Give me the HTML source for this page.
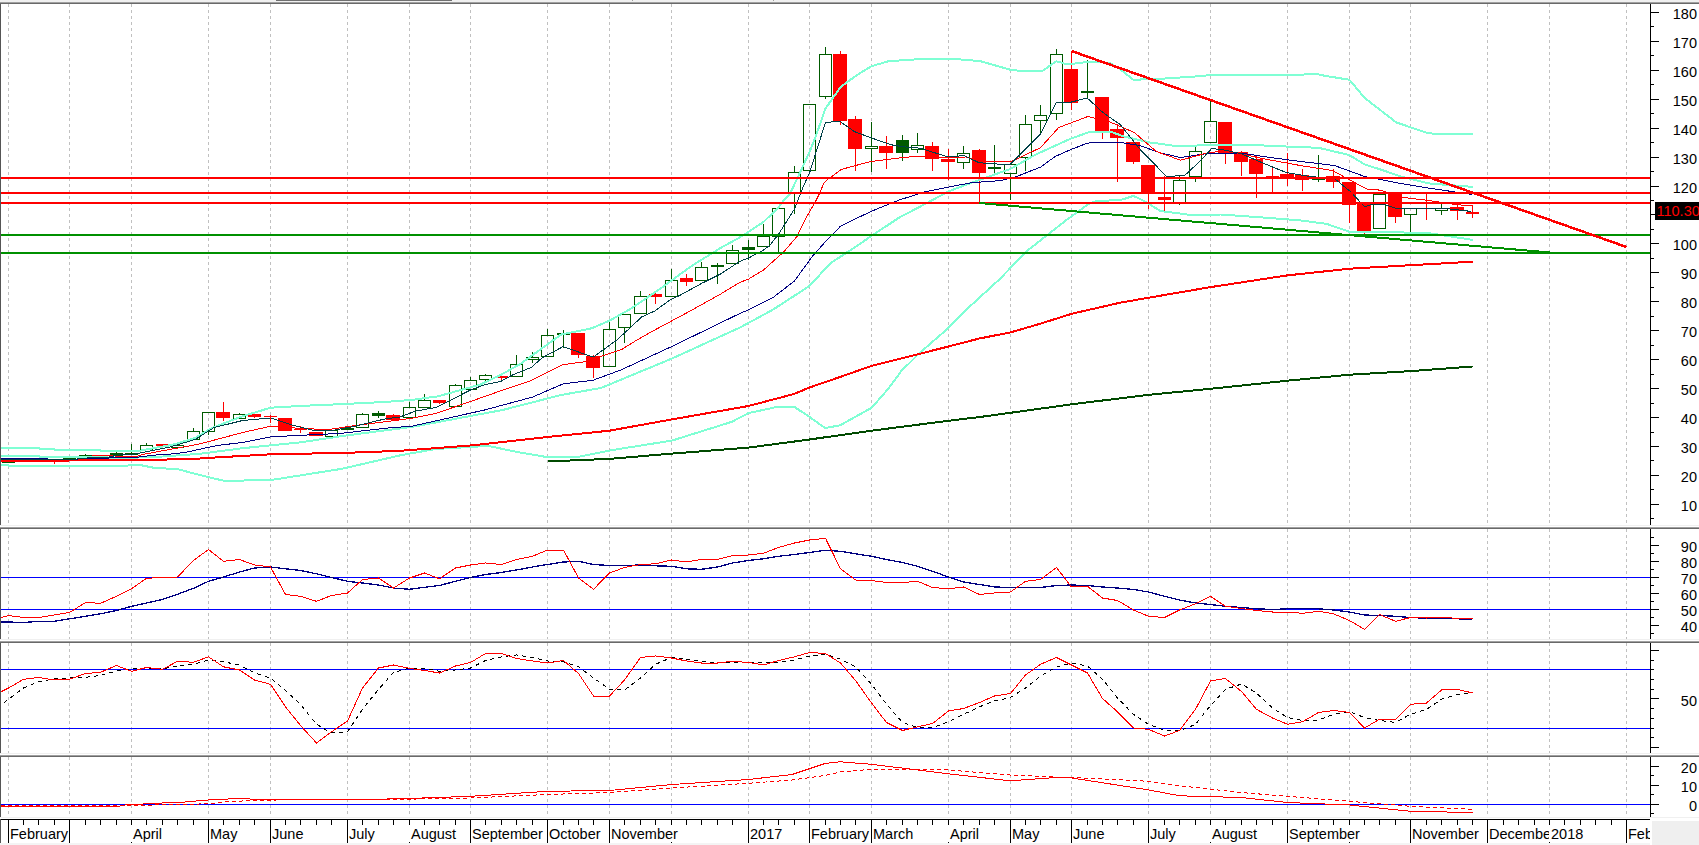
<!DOCTYPE html><html><head><meta charset="utf-8"><style>html,body{margin:0;padding:0;background:#fff;overflow:hidden}svg{display:block}text{font-family:"Liberation Sans",sans-serif;font-size:14.5px;fill:#000}</style></head><body>
<svg width="1699" height="845" viewBox="0 0 1699 845">
<rect x="0" y="0" width="1699" height="845" fill="#fff"/>
<rect x="0" y="0" width="1699" height="2" fill="#f0f0f0"/>
<rect x="0" y="2" width="1699" height="1" fill="#a0a0a0"/>
<rect x="0" y="3" width="1699" height="1" fill="#696969"/>
<rect x="276" y="0" width="176" height="1" fill="#707070"/>
<rect x="632" y="0" width="1" height="1" fill="#a0a0a0"/>
<rect x="773" y="0" width="1" height="1" fill="#a0a0a0"/>
<rect x="0" y="525" width="1699" height="1" fill="#f0f0f0"/>
<rect x="0" y="527" width="1699" height="1" fill="#a0a0a0"/>
<rect x="0" y="528" width="1699" height="1" fill="#696969"/>
<rect x="0" y="639" width="1699" height="1" fill="#f0f0f0"/>
<rect x="0" y="641" width="1699" height="1" fill="#a0a0a0"/>
<rect x="0" y="642" width="1699" height="1" fill="#696969"/>
<rect x="0" y="753" width="1699" height="1" fill="#f0f0f0"/>
<rect x="0" y="755" width="1699" height="1" fill="#a0a0a0"/>
<rect x="0" y="756" width="1699" height="1" fill="#696969"/>
<rect x="0" y="4" width="1" height="521" fill="#555"/>
<rect x="0" y="529" width="1" height="110" fill="#555"/>
<rect x="0" y="643" width="1" height="110" fill="#555"/>
<rect x="0" y="757" width="1" height="60" fill="#555"/>
<path d="M8.5 4V525M69.5 4V525M131.5 4V525M208.5 4V525M270.5 4V525M347.5 4V525M409.5 4V525M470.5 4V525M547.5 4V525M609.5 4V525M671.5 4V525M748.5 4V525M809.5 4V525M871.5 4V525M948.5 4V525M1010.5 4V525M1071.5 4V525M1148.5 4V525M1210.5 4V525M1287.5 4V525M1349.5 4V525M1410.5 4V525M1487.5 4V525M1549.5 4V525M1626.5 4V525M8.5 529V639M69.5 529V639M131.5 529V639M208.5 529V639M270.5 529V639M347.5 529V639M409.5 529V639M470.5 529V639M547.5 529V639M609.5 529V639M671.5 529V639M748.5 529V639M809.5 529V639M871.5 529V639M948.5 529V639M1010.5 529V639M1071.5 529V639M1148.5 529V639M1210.5 529V639M1287.5 529V639M1349.5 529V639M1410.5 529V639M1487.5 529V639M1549.5 529V639M1626.5 529V639M8.5 643V753M69.5 643V753M131.5 643V753M208.5 643V753M270.5 643V753M347.5 643V753M409.5 643V753M470.5 643V753M547.5 643V753M609.5 643V753M671.5 643V753M748.5 643V753M809.5 643V753M871.5 643V753M948.5 643V753M1010.5 643V753M1071.5 643V753M1148.5 643V753M1210.5 643V753M1287.5 643V753M1349.5 643V753M1410.5 643V753M1487.5 643V753M1549.5 643V753M1626.5 643V753M8.5 757V817M69.5 757V817M131.5 757V817M208.5 757V817M270.5 757V817M347.5 757V817M409.5 757V817M470.5 757V817M547.5 757V817M609.5 757V817M671.5 757V817M748.5 757V817M809.5 757V817M871.5 757V817M948.5 757V817M1010.5 757V817M1071.5 757V817M1148.5 757V817M1210.5 757V817M1287.5 757V817M1349.5 757V817M1410.5 757V817M1487.5 757V817M1549.5 757V817M1626.5 757V817" stroke="#c0c0c0" stroke-width="1" stroke-dasharray="3 3" fill="none" shape-rendering="crispEdges"/>
<defs><clipPath id="cm"><rect x="1" y="4" width="1649" height="521"/></clipPath><clipPath id="cr"><rect x="1" y="529" width="1649" height="110"/></clipPath><clipPath id="cs"><rect x="1" y="643" width="1649" height="110"/></clipPath><clipPath id="cd"><rect x="1" y="757" width="1649" height="60"/></clipPath><clipPath id="cx"><rect x="1" y="820" width="1649" height="25"/></clipPath></defs>
<g clip-path="url(#cm)" shape-rendering="crispEdges">
<rect x="2.5" y="459.5" width="12" height="3" fill="none" stroke="#005a00" stroke-width="1"/>
<rect x="17.5" y="458.5" width="12" height="3" fill="none" stroke="#005a00" stroke-width="1"/>
<rect x="32.5" y="458.5" width="12" height="3" fill="none" stroke="#005a00" stroke-width="1"/>
<rect x="54" y="462" width="1" height="2" fill="#ff0000"/>
<rect x="47" y="459" width="14" height="3" fill="#ff0000"/>
<rect x="63.5" y="458.5" width="12" height="2" fill="none" stroke="#005a00" stroke-width="1"/>
<rect x="85" y="454" width="1" height="1" fill="#005a00"/>
<rect x="79.5" y="455.5" width="12" height="2" fill="none" stroke="#005a00" stroke-width="1"/>
<rect x="100" y="457" width="1" height="1" fill="#ff0000"/>
<rect x="94" y="455" width="13" height="2" fill="#ff0000"/>
<rect x="116" y="452" width="1" height="1" fill="#005a00"/>
<rect x="110" y="453" width="13" height="3" fill="#005a00"/>
<rect x="131" y="444" width="1" height="9" fill="#005a00"/>
<rect x="125" y="453" width="13" height="2" fill="#005a00"/>
<rect x="146" y="443" width="1" height="2" fill="#005a00"/>
<rect x="140.5" y="445.5" width="12" height="4" fill="none" stroke="#005a00" stroke-width="1"/>
<rect x="156" y="444" width="13" height="2" fill="#ff0000"/>
<rect x="177" y="448" width="1" height="1" fill="#005a00"/>
<rect x="171.5" y="445.5" width="12" height="2" fill="none" stroke="#005a00" stroke-width="1"/>
<rect x="193" y="428" width="1" height="3" fill="#005a00"/>
<rect x="187.5" y="431.5" width="12" height="8" fill="none" stroke="#005a00" stroke-width="1"/>
<rect x="208" y="432" width="1" height="3" fill="#005a00"/>
<rect x="202.5" y="412.5" width="12" height="19" fill="none" stroke="#005a00" stroke-width="1"/>
<rect x="223" y="402" width="1" height="10" fill="#ff0000"/>
<rect x="223" y="418" width="1" height="3" fill="#ff0000"/>
<rect x="216" y="412" width="14" height="6" fill="#ff0000"/>
<rect x="239" y="413" width="1" height="1" fill="#005a00"/>
<rect x="233.5" y="414.5" width="12" height="4" fill="none" stroke="#005a00" stroke-width="1"/>
<rect x="254" y="413" width="1" height="1" fill="#ff0000"/>
<rect x="254" y="417" width="1" height="1" fill="#ff0000"/>
<rect x="248" y="414" width="13" height="3" fill="#ff0000"/>
<rect x="270" y="415" width="1" height="1" fill="#ff0000"/>
<rect x="270" y="417" width="1" height="6" fill="#ff0000"/>
<rect x="264" y="416" width="13" height="1" fill="#ff0000"/>
<rect x="278" y="418" width="14" height="13" fill="#ff0000"/>
<rect x="300" y="426" width="1" height="3" fill="#ff0000"/>
<rect x="300" y="430" width="1" height="3" fill="#ff0000"/>
<rect x="294" y="429" width="13" height="1" fill="#ff0000"/>
<rect x="309" y="432" width="14" height="4" fill="#ff0000"/>
<rect x="325.5" y="430.5" width="12" height="6" fill="none" stroke="#005a00" stroke-width="1"/>
<rect x="341" y="428" width="13" height="2" fill="#005a00"/>
<rect x="362" y="413" width="1" height="1" fill="#005a00"/>
<rect x="356.5" y="414.5" width="12" height="13" fill="none" stroke="#005a00" stroke-width="1"/>
<rect x="378" y="411" width="1" height="2" fill="#005a00"/>
<rect x="378" y="416" width="1" height="2" fill="#005a00"/>
<rect x="372" y="413" width="13" height="3" fill="#005a00"/>
<rect x="393" y="414" width="1" height="1" fill="#ff0000"/>
<rect x="386" y="415" width="14" height="5" fill="#ff0000"/>
<rect x="409" y="402" width="1" height="5" fill="#005a00"/>
<rect x="403.5" y="407.5" width="12" height="10" fill="none" stroke="#005a00" stroke-width="1"/>
<rect x="424" y="394" width="1" height="6" fill="#005a00"/>
<rect x="418.5" y="400.5" width="12" height="7" fill="none" stroke="#005a00" stroke-width="1"/>
<rect x="439" y="403" width="1" height="1" fill="#ff0000"/>
<rect x="433" y="400" width="13" height="3" fill="#ff0000"/>
<rect x="455" y="384" width="1" height="1" fill="#005a00"/>
<rect x="449.5" y="385.5" width="12" height="21" fill="none" stroke="#005a00" stroke-width="1"/>
<rect x="470" y="377" width="1" height="3" fill="#005a00"/>
<rect x="464.5" y="380.5" width="12" height="9" fill="none" stroke="#005a00" stroke-width="1"/>
<rect x="485" y="374" width="1" height="1" fill="#005a00"/>
<rect x="485" y="380" width="1" height="3" fill="#005a00"/>
<rect x="479.5" y="375.5" width="12" height="4" fill="none" stroke="#005a00" stroke-width="1"/>
<rect x="501" y="378" width="1" height="2" fill="#ff0000"/>
<rect x="495" y="376" width="13" height="2" fill="#ff0000"/>
<rect x="516" y="355" width="1" height="9" fill="#005a00"/>
<rect x="510.5" y="364.5" width="12" height="12" fill="none" stroke="#005a00" stroke-width="1"/>
<rect x="532" y="352" width="1" height="5" fill="#005a00"/>
<rect x="532" y="360" width="1" height="3" fill="#005a00"/>
<rect x="526.5" y="357.5" width="12" height="2" fill="none" stroke="#005a00" stroke-width="1"/>
<rect x="547" y="329" width="1" height="6" fill="#005a00"/>
<rect x="541.5" y="335.5" width="12" height="21" fill="none" stroke="#005a00" stroke-width="1"/>
<rect x="563" y="330" width="1" height="3" fill="#005a00"/>
<rect x="563" y="335" width="1" height="13" fill="#005a00"/>
<rect x="557" y="333" width="13" height="2" fill="#005a00"/>
<rect x="578" y="355" width="1" height="3" fill="#ff0000"/>
<rect x="571" y="333" width="14" height="22" fill="#ff0000"/>
<rect x="593" y="355" width="1" height="1" fill="#ff0000"/>
<rect x="593" y="368" width="1" height="10" fill="#ff0000"/>
<rect x="586" y="356" width="14" height="12" fill="#ff0000"/>
<rect x="609" y="322" width="1" height="7" fill="#005a00"/>
<rect x="603.5" y="329.5" width="12" height="37" fill="none" stroke="#005a00" stroke-width="1"/>
<rect x="624" y="328" width="1" height="15" fill="#005a00"/>
<rect x="618.5" y="314.5" width="12" height="13" fill="none" stroke="#005a00" stroke-width="1"/>
<rect x="640" y="291" width="1" height="5" fill="#005a00"/>
<rect x="634.5" y="296.5" width="12" height="17" fill="none" stroke="#005a00" stroke-width="1"/>
<rect x="655" y="293" width="1" height="1" fill="#ff0000"/>
<rect x="655" y="297" width="1" height="7" fill="#ff0000"/>
<rect x="649" y="294" width="13" height="3" fill="#ff0000"/>
<rect x="671" y="269" width="1" height="11" fill="#005a00"/>
<rect x="665.5" y="280.5" width="12" height="16" fill="none" stroke="#005a00" stroke-width="1"/>
<rect x="686" y="274" width="1" height="4" fill="#ff0000"/>
<rect x="686" y="282" width="1" height="4" fill="#ff0000"/>
<rect x="680" y="278" width="13" height="4" fill="#ff0000"/>
<rect x="701" y="262" width="1" height="5" fill="#005a00"/>
<rect x="695.5" y="267.5" width="12" height="13" fill="none" stroke="#005a00" stroke-width="1"/>
<rect x="717" y="263" width="1" height="2" fill="#005a00"/>
<rect x="717" y="267" width="1" height="17" fill="#005a00"/>
<rect x="711" y="265" width="13" height="2" fill="#005a00"/>
<rect x="732" y="245" width="1" height="5" fill="#005a00"/>
<rect x="726.5" y="250.5" width="12" height="13" fill="none" stroke="#005a00" stroke-width="1"/>
<rect x="748" y="240" width="1" height="7" fill="#005a00"/>
<rect x="748" y="250" width="1" height="10" fill="#005a00"/>
<rect x="742" y="247" width="13" height="3" fill="#005a00"/>
<rect x="763" y="224" width="1" height="12" fill="#005a00"/>
<rect x="757.5" y="236.5" width="12" height="10" fill="none" stroke="#005a00" stroke-width="1"/>
<rect x="778" y="237" width="1" height="16" fill="#005a00"/>
<rect x="772.5" y="208.5" width="12" height="28" fill="none" stroke="#005a00" stroke-width="1"/>
<rect x="794" y="166" width="1" height="6" fill="#005a00"/>
<rect x="794" y="193" width="1" height="21" fill="#005a00"/>
<rect x="788.5" y="172.5" width="12" height="20" fill="none" stroke="#005a00" stroke-width="1"/>
<rect x="803.5" y="104.5" width="12" height="66" fill="none" stroke="#005a00" stroke-width="1"/>
<rect x="825" y="47" width="1" height="7" fill="#005a00"/>
<rect x="825" y="97" width="1" height="2" fill="#005a00"/>
<rect x="819.5" y="54.5" width="12" height="42" fill="none" stroke="#005a00" stroke-width="1"/>
<rect x="840" y="51" width="1" height="3" fill="#ff0000"/>
<rect x="840" y="121" width="1" height="4" fill="#ff0000"/>
<rect x="833" y="54" width="14" height="67" fill="#ff0000"/>
<rect x="855" y="116" width="1" height="3" fill="#ff0000"/>
<rect x="855" y="149" width="1" height="22" fill="#ff0000"/>
<rect x="848" y="119" width="14" height="30" fill="#ff0000"/>
<rect x="871" y="122" width="1" height="24" fill="#005a00"/>
<rect x="871" y="149" width="1" height="23" fill="#005a00"/>
<rect x="865.5" y="146.5" width="12" height="2" fill="none" stroke="#005a00" stroke-width="1"/>
<rect x="886" y="136" width="1" height="10" fill="#ff0000"/>
<rect x="886" y="153" width="1" height="16" fill="#ff0000"/>
<rect x="879" y="146" width="14" height="7" fill="#ff0000"/>
<rect x="902" y="135" width="1" height="5" fill="#005a00"/>
<rect x="902" y="153" width="1" height="8" fill="#005a00"/>
<rect x="896" y="140" width="13" height="13" fill="#005a00"/>
<rect x="917" y="133" width="1" height="12" fill="#005a00"/>
<rect x="917" y="150" width="1" height="3" fill="#005a00"/>
<rect x="911.5" y="145.5" width="12" height="4" fill="none" stroke="#005a00" stroke-width="1"/>
<rect x="932" y="142" width="1" height="4" fill="#ff0000"/>
<rect x="932" y="159" width="1" height="12" fill="#ff0000"/>
<rect x="925" y="146" width="14" height="13" fill="#ff0000"/>
<rect x="948" y="149" width="1" height="10" fill="#ff0000"/>
<rect x="948" y="162" width="1" height="18" fill="#ff0000"/>
<rect x="941" y="159" width="14" height="3" fill="#ff0000"/>
<rect x="963" y="146" width="1" height="7" fill="#005a00"/>
<rect x="963" y="163" width="1" height="6" fill="#005a00"/>
<rect x="957.5" y="153.5" width="12" height="9" fill="none" stroke="#005a00" stroke-width="1"/>
<rect x="979" y="149" width="1" height="1" fill="#ff0000"/>
<rect x="979" y="173" width="1" height="31" fill="#ff0000"/>
<rect x="972" y="150" width="14" height="23" fill="#ff0000"/>
<rect x="994" y="145" width="1" height="22" fill="#005a00"/>
<rect x="994" y="169" width="1" height="5" fill="#005a00"/>
<rect x="988" y="167" width="13" height="2" fill="#005a00"/>
<rect x="1010" y="174" width="1" height="26" fill="#005a00"/>
<rect x="1004.5" y="164.5" width="12" height="9" fill="none" stroke="#005a00" stroke-width="1"/>
<rect x="1025" y="115" width="1" height="9" fill="#005a00"/>
<rect x="1025" y="158" width="1" height="13" fill="#005a00"/>
<rect x="1019.5" y="124.5" width="12" height="33" fill="none" stroke="#005a00" stroke-width="1"/>
<rect x="1040" y="105" width="1" height="10" fill="#005a00"/>
<rect x="1040" y="121" width="1" height="13" fill="#005a00"/>
<rect x="1034.5" y="115.5" width="12" height="5" fill="none" stroke="#005a00" stroke-width="1"/>
<rect x="1056" y="49" width="1" height="5" fill="#005a00"/>
<rect x="1056" y="114" width="1" height="6" fill="#005a00"/>
<rect x="1050.5" y="54.5" width="12" height="59" fill="none" stroke="#005a00" stroke-width="1"/>
<rect x="1071" y="51" width="1" height="18" fill="#ff0000"/>
<rect x="1071" y="103" width="1" height="7" fill="#ff0000"/>
<rect x="1064" y="69" width="14" height="34" fill="#ff0000"/>
<rect x="1087" y="60" width="1" height="31" fill="#005a00"/>
<rect x="1087" y="93" width="1" height="6" fill="#005a00"/>
<rect x="1081" y="91" width="13" height="2" fill="#005a00"/>
<rect x="1102" y="131" width="1" height="8" fill="#ff0000"/>
<rect x="1095" y="97" width="14" height="34" fill="#ff0000"/>
<rect x="1117" y="124" width="1" height="5" fill="#ff0000"/>
<rect x="1117" y="138" width="1" height="44" fill="#ff0000"/>
<rect x="1110" y="129" width="14" height="9" fill="#ff0000"/>
<rect x="1133" y="162" width="1" height="2" fill="#ff0000"/>
<rect x="1126" y="142" width="14" height="20" fill="#ff0000"/>
<rect x="1148" y="193" width="1" height="16" fill="#ff0000"/>
<rect x="1141" y="165" width="14" height="28" fill="#ff0000"/>
<rect x="1164" y="176" width="1" height="21" fill="#ff0000"/>
<rect x="1164" y="200" width="1" height="11" fill="#ff0000"/>
<rect x="1158" y="197" width="13" height="3" fill="#ff0000"/>
<rect x="1179" y="175" width="1" height="5" fill="#005a00"/>
<rect x="1179" y="203" width="1" height="2" fill="#005a00"/>
<rect x="1173.5" y="180.5" width="12" height="22" fill="none" stroke="#005a00" stroke-width="1"/>
<rect x="1195" y="147" width="1" height="4" fill="#005a00"/>
<rect x="1195" y="177" width="1" height="5" fill="#005a00"/>
<rect x="1189.5" y="151.5" width="12" height="25" fill="none" stroke="#005a00" stroke-width="1"/>
<rect x="1210" y="100" width="1" height="21" fill="#005a00"/>
<rect x="1204.5" y="121.5" width="12" height="21" fill="none" stroke="#005a00" stroke-width="1"/>
<rect x="1225" y="153" width="1" height="11" fill="#ff0000"/>
<rect x="1218" y="122" width="14" height="31" fill="#ff0000"/>
<rect x="1241" y="151" width="1" height="1" fill="#ff0000"/>
<rect x="1241" y="162" width="1" height="14" fill="#ff0000"/>
<rect x="1234" y="152" width="14" height="10" fill="#ff0000"/>
<rect x="1256" y="156" width="1" height="3" fill="#ff0000"/>
<rect x="1256" y="174" width="1" height="24" fill="#ff0000"/>
<rect x="1249" y="159" width="14" height="15" fill="#ff0000"/>
<rect x="1272" y="168" width="1" height="8" fill="#ff0000"/>
<rect x="1272" y="178" width="1" height="14" fill="#ff0000"/>
<rect x="1266" y="176" width="13" height="2" fill="#ff0000"/>
<rect x="1287" y="153" width="1" height="21" fill="#ff0000"/>
<rect x="1287" y="178" width="1" height="8" fill="#ff0000"/>
<rect x="1280" y="174" width="14" height="4" fill="#ff0000"/>
<rect x="1302" y="169" width="1" height="6" fill="#ff0000"/>
<rect x="1302" y="180" width="1" height="11" fill="#ff0000"/>
<rect x="1295" y="175" width="14" height="5" fill="#ff0000"/>
<rect x="1318" y="155" width="1" height="23" fill="#005a00"/>
<rect x="1318" y="180" width="1" height="2" fill="#005a00"/>
<rect x="1312" y="178" width="13" height="2" fill="#005a00"/>
<rect x="1333" y="169" width="1" height="7" fill="#ff0000"/>
<rect x="1333" y="182" width="1" height="6" fill="#ff0000"/>
<rect x="1326" y="176" width="14" height="6" fill="#ff0000"/>
<rect x="1349" y="205" width="1" height="18" fill="#ff0000"/>
<rect x="1342" y="182" width="14" height="23" fill="#ff0000"/>
<rect x="1364" y="231" width="1" height="4" fill="#ff0000"/>
<rect x="1357" y="204" width="14" height="27" fill="#ff0000"/>
<rect x="1373.5" y="194.5" width="12" height="34" fill="none" stroke="#005a00" stroke-width="1"/>
<rect x="1395" y="217" width="1" height="6" fill="#ff0000"/>
<rect x="1388" y="192" width="14" height="25" fill="#ff0000"/>
<rect x="1410" y="215" width="1" height="17" fill="#005a00"/>
<rect x="1404.5" y="208.5" width="12" height="6" fill="none" stroke="#005a00" stroke-width="1"/>
<rect x="1426" y="194" width="1" height="8" fill="#ff0000"/>
<rect x="1426" y="204" width="1" height="16" fill="#ff0000"/>
<rect x="1420" y="202" width="13" height="2" fill="#ff0000"/>
<rect x="1441" y="204" width="1" height="4" fill="#005a00"/>
<rect x="1441" y="211" width="1" height="4" fill="#005a00"/>
<rect x="1435.5" y="208.5" width="12" height="2" fill="none" stroke="#005a00" stroke-width="1"/>
<rect x="1457" y="203" width="1" height="4" fill="#ff0000"/>
<rect x="1457" y="211" width="1" height="9" fill="#ff0000"/>
<rect x="1450" y="207" width="14" height="4" fill="#ff0000"/>
<rect x="1472" y="205" width="1" height="7" fill="#ff0000"/>
<rect x="1472" y="214" width="1" height="4" fill="#ff0000"/>
<rect x="1466" y="212" width="13" height="2" fill="#ff0000"/>
</g>
<g clip-path="url(#cm)" fill="none" shape-rendering="crispEdges" stroke-linejoin="round">
<polyline points="1.0,465.0 8.0,465.0 9.0,466.0 116.0,466.0 140.0,465.0 155.0,468.0 177.0,469.0 200.0,475.1 224.0,480.8 270.6,480.1 342.0,468.8 400.0,455.4 435.3,449.0 488.3,445.9 516.5,451.9 547.6,457.2 576.6,457.2 611.9,450.1 671.9,440.6 731.9,421.8 748.5,413.1 778.0,406.7 794.0,406.7 809.5,416.9 825.0,428.0 840.0,425.4 871.5,407.8 888.0,389.2 901.2,371.2 918.9,353.6 948.4,328.0 966.6,309.4 987.8,290.0 1000.0,278.8 1025.9,251.8 1050.6,232.4 1066.5,220.0 1088.0,204.4 1094.7,201.5 1122.0,199.6 1133.5,195.9 1145.0,201.5 1160.4,211.0 1190.5,214.9 1220.7,214.5 1270.0,218.0 1300.2,220.4 1326.4,223.8 1349.5,231.8 1380.7,231.8 1430.0,233.3 1472.7,239.9" stroke="#7fffd4" stroke-width="2"/>
<polyline points="1.0,456.0 39.0,456.0 40.0,457.0 107.0,457.0 108.0,458.0 135.0,458.0 140.0,457.0 162.7,456.5 200.0,453.8 242.6,448.2 299.4,442.5 342.0,436.1 384.6,430.4 412.0,426.9 502.6,410.0 561.0,395.0 601.2,387.9 671.6,358.7 740.0,327.5 772.4,310.0 809.5,286.0 830.0,263.6 860.0,243.8 871.5,235.9 899.0,217.7 925.1,204.0 948.5,191.4 972.0,182.6 1000.0,172.6 1010.4,168.9 1033.0,156.0 1040.6,152.3 1070.8,138.6 1088.9,132.2 1110.0,131.5 1124.1,136.5 1150.3,142.5 1176.5,146.1 1210.7,145.1 1260.0,145.3 1302.6,147.3 1318.2,147.7 1349.4,155.1 1364.6,164.4 1382.1,170.0 1400.8,176.5 1428.4,183.4 1472.7,186.9" stroke="#7fffd4" stroke-width="2"/>
<polyline points="1.0,448.0 39.0,448.0 40.0,449.0 54.0,449.0 55.0,450.0 100.0,450.0 101.0,451.0 138.0,451.0 173.0,444.7 195.0,438.0 212.0,428.0 218.5,425.4 242.6,416.2 270.6,407.7 299.4,406.0 342.0,404.1 384.6,402.0 412.0,399.9 438.2,396.3 461.5,389.8 480.5,384.5 500.6,375.0 520.7,363.7 561.0,334.6 592.0,328.2 609.7,320.5 631.0,308.6 660.6,288.5 678.3,275.5 692.5,265.4 720.0,248.3 740.0,237.3 763.0,222.4 778.0,208.0 782.4,202.1 790.0,193.9 797.0,179.0 804.0,164.0 810.0,150.8 815.5,137.0 825.5,108.5 840.4,87.3 856.5,75.3 871.5,66.2 888.7,61.2 918.8,59.2 950.0,58.8 964.0,59.7 980.2,61.1 1010.4,69.8 1025.7,71.4 1042.2,71.0 1056.4,61.3 1067.1,64.3 1079.5,63.1 1087.2,61.9 1100.2,61.9 1110.0,63.1 1120.1,69.1 1133.2,79.7 1156.3,79.1 1200.6,76.1 1212.7,74.7 1250.0,74.9 1318.2,74.4 1323.9,75.6 1349.4,79.8 1365.0,98.3 1396.3,122.4 1427.6,133.1 1434.7,133.8 1473.0,133.8" stroke="#7fffd4" stroke-width="2"/>
<polyline points="1.0,460.5 69.0,460.5 70.0,459.7 140.0,459.7 162.0,459.6 193.0,459.0 212.0,457.7 270.6,454.3 347.7,452.8 400.0,450.8 470.6,445.5 547.6,437.0 609.4,430.7 671.9,419.4 748.5,406.0 794.0,394.0 809.5,387.5 840.0,377.0 871.6,365.9 908.3,356.7 948.4,346.5 978.9,338.6 1010.4,332.4 1040.7,323.6 1071.6,313.8 1120.0,302.7 1148.8,297.7 1210.6,287.1 1287.2,275.4 1349.7,268.7 1410.8,265.2 1472.6,261.7" stroke="#ff0000" stroke-width="2"/>
<polyline points="547.6,461.4 609.4,458.9 671.9,453.6 748.5,447.6 809.6,439.5 871.4,430.7 948.4,420.8 980.0,417.0 1071.8,404.3 1148.8,394.8 1210.6,388.8 1287.2,380.7 1349.7,374.7 1410.8,371.1 1472.6,366.5" stroke="#004a00" stroke-width="2"/>
<polyline points="1.0,458.5 47.0,458.5 48.0,459.5 77.0,459.5 78.0,458.5 108.0,458.5 109.0,457.5 135.0,457.5 154.8,455.1 169.7,454.2 186.3,452.2 207.0,447.6 220.0,445.1 242.6,442.5 270.6,436.8 299.4,435.4 342.0,433.3 384.6,428.3 412.0,426.2 484.5,410.0 532.8,397.0 563.0,383.9 593.2,380.2 621.3,369.8 671.6,346.6 740.0,313.4 748.2,310.0 773.0,297.6 794.4,281.0 812.6,256.1 825.9,241.2 840.7,226.0 871.5,211.2 899.0,200.1 925.1,191.7 948.5,187.1 972.0,182.6 1000.0,180.7 1017.0,176.4 1040.7,167.0 1055.0,156.6 1071.0,149.5 1087.0,143.3 1094.7,142.4 1121.0,142.4 1140.0,145.7 1160.4,152.8 1180.5,157.6 1210.7,153.0 1240.8,153.0 1270.0,157.5 1300.2,161.4 1334.4,165.5 1364.6,176.5 1400.8,183.5 1428.4,188.1 1452.6,191.6 1472.0,194.5" stroke="#000080" stroke-width="1"/>
<polyline points="91.0,455.0 107.0,455.2 123.5,456.8 135.0,456.8 143.0,454.4 200.0,443.9 242.6,432.5 270.6,426.2 299.4,428.3 327.8,429.7 356.0,425.4 412.0,418.3 435.5,413.5 461.5,404.6 500.6,390.9 530.8,380.8 563.0,364.7 585.1,361.7 621.3,349.7 636.9,340.0 654.7,330.0 690.2,311.0 720.0,294.4 740.0,282.3 748.2,279.3 763.5,270.0 775.0,259.7 783.5,252.2 797.0,236.5 806.0,218.0 810.6,210.0 815.2,202.1 819.7,193.0 823.9,183.1 828.0,179.0 833.0,175.6 841.1,169.5 860.0,164.3 871.5,161.5 900.7,157.8 920.0,156.0 941.3,157.6 965.8,157.0 983.9,161.0 1003.0,161.0 1010.4,162.0 1040.6,147.6 1058.7,127.5 1087.9,116.5 1110.0,122.0 1134.2,132.4 1156.3,151.5 1180.5,160.2 1204.6,153.6 1224.7,150.5 1265.0,159.0 1300.2,165.5 1332.4,170.5 1354.6,182.6 1366.6,189.0 1380.7,190.2 1400.8,197.2 1429.0,200.5 1454.0,204.3 1472.7,206.1" stroke="#ff0000" stroke-width="1"/>
<polyline points="1.0,459.0 77.0,459.0 93.0,457.4 107.0,457.4 123.0,454.0 135.0,454.0 169.0,447.3 195.0,439.5 214.0,427.6 242.6,420.5 270.6,418.0 291.0,424.7 313.6,430.4 335.0,430.0 356.0,426.0 384.6,419.0 400.0,417.0 415.4,411.1 435.5,407.6 449.7,400.5 471.0,389.8 485.2,384.5 500.6,381.5 512.4,375.0 531.4,367.3 542.0,357.9 563.0,346.6 593.2,357.1 616.8,340.0 631.0,327.0 641.7,316.9 654.7,311.0 671.2,299.2 678.3,296.2 690.2,289.7 702.0,283.2 720.0,274.3 740.0,261.3 748.5,258.0 763.0,250.5 770.0,245.2 779.3,233.1 785.0,224.0 794.5,209.0 803.0,187.2 810.0,171.5 816.0,152.4 825.5,122.4 839.7,121.3 854.4,131.6 870.5,137.6 890.7,144.7 902.7,146.7 920.0,148.2 933.8,152.5 947.7,156.7 964.7,155.7 978.6,162.6 989.2,163.6 1010.0,164.7 1040.4,134.1 1056.4,102.1 1071.2,102.1 1087.2,98.0 1102.6,112.2 1115.0,121.1 1120.1,124.4 1140.2,149.5 1166.4,176.3 1184.5,175.7 1200.6,160.6 1211.7,148.5 1224.7,150.1 1240.8,153.6 1270.0,166.0 1286.2,172.5 1310.3,176.5 1334.4,178.5 1350.5,191.6 1364.6,206.7 1372.7,204.3 1384.7,204.7 1396.8,208.5 1442.6,208.2 1471.0,211.4" stroke="#004048" stroke-width="1"/>
<line x1="1" y1="178" x2="1650" y2="178" stroke="#ff0000" stroke-width="2"/>
<line x1="1" y1="193" x2="1650" y2="193" stroke="#ff0000" stroke-width="2"/>
<line x1="1" y1="203" x2="1650" y2="203" stroke="#ff0000" stroke-width="2"/>
<line x1="1" y1="235" x2="1650" y2="235" stroke="#009000" stroke-width="2"/>
<line x1="1" y1="253" x2="1650" y2="253" stroke="#009000" stroke-width="2"/>
<line x1="1071.5" y1="51" x2="1626.5" y2="247" stroke="#ff0000" stroke-width="2.5"/>
<line x1="979" y1="203" x2="1550" y2="252.5" stroke="#009000" stroke-width="2"/>
</g>
<g clip-path="url(#cr)" fill="none" shape-rendering="crispEdges">
<line x1="1" y1="577.5" x2="1650" y2="577.5" stroke="#0000ff" stroke-width="1"/>
<line x1="1" y1="609.5" x2="1650" y2="609.5" stroke="#0000ff" stroke-width="1"/>
<polyline points="1.0,622.0 8.5,622.0 23.5,622.5 38.5,621.3 54.5,621.3 69.5,618.8 85.5,616.3 100.5,613.8 116.5,610.5 131.5,606.3 146.5,603.0 162.5,599.5 177.5,594.3 193.5,588.3 208.5,581.3 223.5,577.0 239.5,572.0 254.5,568.0 270.5,567.0 285.5,568.8 300.5,570.5 316.5,573.8 331.5,577.5 347.5,581.3 362.5,583.0 378.5,585.0 393.5,588.0 409.5,589.3 424.5,587.3 439.5,585.5 455.5,581.3 470.5,577.5 485.5,574.5 501.5,572.5 516.5,570.0 532.5,567.0 547.5,564.5 563.5,562.0 578.5,561.3 593.5,564.5 609.5,565.5 624.5,565.5 640.5,565.0 655.5,565.8 671.5,566.3 686.5,568.8 701.5,569.3 717.5,567.0 732.5,563.0 748.5,560.5 763.5,558.8 778.5,556.3 794.5,554.5 809.5,552.5 825.5,550.3 840.5,551.3 855.5,553.8 871.5,556.3 886.5,559.5 902.5,562.5 917.5,566.3 932.5,571.3 948.5,577.0 963.5,582.0 979.5,584.5 994.5,587.0 1010.5,587.5 1025.5,587.5 1040.5,587.5 1056.5,585.5 1071.5,585.0 1087.5,585.5 1102.5,587.0 1117.5,588.0 1133.5,589.5 1148.5,592.0 1164.5,596.3 1179.5,600.0 1195.5,603.0 1210.5,604.5 1225.5,606.3 1241.5,607.5 1256.5,608.8 1272.5,609.5 1287.5,608.8 1302.5,608.8 1318.5,608.8 1333.5,610.0 1349.5,612.0 1364.5,615.0 1379.5,615.5 1395.5,616.3 1410.5,617.5 1426.5,618.3 1441.5,618.3 1457.5,618.8 1472.5,619.3" stroke="#000080" stroke-width="1.3"/>
<polyline points="1.0,617.5 8.5,615.5 23.5,617.5 38.5,617.5 54.5,615.0 69.5,612.5 85.5,602.5 100.5,603.3 116.5,596.3 131.5,588.8 146.5,578.3 162.5,577.5 177.5,577.0 193.5,560.5 208.5,549.5 223.5,561.3 239.5,559.5 254.5,565.0 270.5,567.0 285.5,594.5 300.5,596.3 316.5,601.3 331.5,595.5 347.5,593.0 362.5,579.5 378.5,578.0 393.5,588.0 409.5,578.0 424.5,573.0 439.5,578.8 455.5,568.0 470.5,565.0 485.5,563.0 501.5,564.5 516.5,559.5 532.5,556.3 547.5,550.0 563.5,550.0 578.5,578.0 593.5,589.3 609.5,573.0 624.5,567.5 640.5,564.5 655.5,563.8 671.5,560.0 686.5,562.0 701.5,559.5 717.5,559.5 732.5,555.5 748.5,555.0 763.5,553.3 778.5,547.5 794.5,543.0 809.5,540.0 825.5,538.3 840.5,568.8 855.5,580.0 871.5,580.5 886.5,582.5 902.5,582.5 917.5,581.3 932.5,587.5 948.5,588.8 963.5,587.0 979.5,594.5 994.5,593.0 1010.5,592.0 1025.5,581.3 1040.5,579.5 1056.5,567.5 1071.5,587.0 1087.5,586.3 1102.5,598.0 1117.5,600.5 1133.5,610.0 1148.5,616.3 1164.5,617.5 1179.5,610.0 1195.5,603.8 1210.5,596.3 1225.5,606.3 1241.5,608.5 1256.5,610.5 1272.5,612.0 1287.5,612.0 1302.5,613.3 1318.5,611.3 1333.5,613.8 1349.5,620.5 1364.5,629.3 1379.5,614.5 1395.5,621.3 1410.5,617.5 1426.5,618.0 1441.5,617.5 1457.5,618.3 1472.5,618.8" stroke="#ff0000" stroke-width="1"/>
</g>
<g clip-path="url(#cs)" fill="none" shape-rendering="crispEdges">
<line x1="1" y1="669.5" x2="1650" y2="669.5" stroke="#0000ff" stroke-width="1"/>
<line x1="1" y1="728.5" x2="1650" y2="728.5" stroke="#0000ff" stroke-width="1"/>
<polyline points="4.0,702.5 8.5,699.3 23.5,688.0 38.5,681.8 54.5,678.8 69.5,678.0 85.5,677.3 100.5,675.5 116.5,671.0 131.5,668.8 146.5,668.0 162.5,668.8 177.5,666.3 193.5,664.3 208.5,660.0 223.5,661.8 239.5,665.0 254.5,673.0 270.5,678.0 285.5,690.5 300.5,704.3 316.5,724.3 331.5,733.0 347.5,731.8 362.5,709.3 378.5,689.3 393.5,672.5 409.5,668.0 424.5,668.0 439.5,671.3 455.5,670.0 470.5,668.0 485.5,660.5 501.5,656.8 516.5,655.0 532.5,657.5 547.5,661.0 563.5,661.8 578.5,666.8 593.5,678.0 609.5,689.3 624.5,690.0 640.5,678.0 655.5,664.3 671.5,657.5 686.5,659.3 701.5,661.0 717.5,663.0 732.5,662.5 748.5,662.5 763.5,663.0 778.5,662.5 794.5,660.0 809.5,656.0 825.5,654.0 840.5,659.3 855.5,666.8 871.5,684.3 886.5,704.3 902.5,722.5 917.5,727.5 932.5,727.5 948.5,721.8 963.5,714.3 979.5,706.8 994.5,701.0 1010.5,697.5 1025.5,688.0 1040.5,676.0 1056.5,666.8 1071.5,663.0 1087.5,666.0 1102.5,679.3 1117.5,698.0 1133.5,714.3 1148.5,724.3 1164.5,730.5 1179.5,731.0 1195.5,724.3 1210.5,705.5 1225.5,689.3 1241.5,684.0 1256.5,693.0 1272.5,708.0 1287.5,717.5 1302.5,720.5 1318.5,720.0 1333.5,714.3 1349.5,711.8 1364.5,717.5 1379.5,720.5 1395.5,722.5 1410.5,714.3 1426.5,709.3 1441.5,699.3 1457.5,694.3 1472.5,692.5" stroke="#000" stroke-width="1" stroke-dasharray="4 4"/>
<polyline points="1.0,691.8 8.5,688.0 23.5,679.3 38.5,677.5 54.5,680.0 69.5,679.3 85.5,673.5 100.5,672.3 116.5,665.5 131.5,671.3 146.5,667.5 162.5,669.3 177.5,661.3 193.5,662.3 208.5,656.8 223.5,666.8 239.5,670.0 254.5,680.0 270.5,684.3 285.5,706.8 300.5,725.5 316.5,743.0 331.5,731.8 347.5,721.0 362.5,688.0 378.5,668.0 393.5,665.0 409.5,668.3 424.5,670.5 439.5,673.0 455.5,666.0 470.5,662.5 485.5,653.5 501.5,653.5 516.5,658.5 532.5,661.0 547.5,663.0 563.5,660.5 578.5,673.5 593.5,696.0 609.5,696.0 624.5,680.0 640.5,657.5 655.5,656.0 671.5,658.0 686.5,661.0 701.5,663.0 717.5,663.0 732.5,661.3 748.5,662.5 763.5,665.0 778.5,660.5 794.5,656.8 809.5,652.5 825.5,653.5 840.5,663.0 855.5,680.5 871.5,703.0 886.5,722.5 902.5,730.5 917.5,726.8 932.5,723.5 948.5,711.0 963.5,708.5 979.5,702.5 994.5,696.0 1010.5,693.5 1025.5,675.0 1040.5,664.3 1056.5,657.5 1071.5,665.0 1087.5,673.0 1102.5,698.5 1117.5,711.8 1133.5,728.0 1148.5,729.3 1164.5,736.0 1179.5,730.5 1195.5,709.3 1210.5,681.0 1225.5,678.5 1241.5,691.5 1256.5,709.3 1272.5,718.0 1287.5,724.3 1302.5,721.8 1318.5,712.5 1333.5,710.5 1349.5,712.5 1364.5,728.0 1379.5,719.3 1395.5,719.3 1410.5,704.3 1426.5,703.0 1441.5,690.0 1457.5,689.3 1472.5,693.0" stroke="#ff0000" stroke-width="1"/>
</g>
<g clip-path="url(#cd)" fill="none" shape-rendering="crispEdges">
<line x1="1" y1="804.5" x2="1650" y2="804.5" stroke="#0000ff" stroke-width="1"/>
<polyline points="1.0,805.5 120.0,805.5 155.0,805.0 208.0,803.8 232.0,801.3 293.0,799.5 400.0,799.3 470.6,798.0 547.6,794.5 609.4,792.5 671.9,788.0 748.5,783.3 792.0,780.0 825.0,775.5 840.0,772.0 871.5,769.3 948.6,770.0 1010.0,775.0 1056.0,777.0 1071.9,777.5 1149.0,781.3 1180.0,785.8 1241.0,792.5 1287.5,796.3 1349.5,801.3 1410.5,806.3 1472.8,809.3" stroke="#ff0000" stroke-width="1" stroke-dasharray="4 3"/>
<polyline points="1.0,806.0 30.0,806.0 120.0,806.0 125.0,805.0 155.0,803.3 185.0,802.0 208.0,800.0 232.0,798.8 293.0,799.5 325.0,800.0 355.0,799.5 400.0,798.8 470.6,796.3 547.6,791.3 609.4,790.5 671.9,784.5 748.5,779.5 792.0,774.5 825.0,763.5 840.0,761.8 871.5,764.3 948.6,773.8 1010.0,780.8 1056.0,777.5 1071.9,778.0 1149.0,790.0 1180.0,795.8 1241.0,797.5 1287.5,802.5 1349.5,805.0 1410.5,811.3 1472.8,812.5" stroke="#ff0000" stroke-width="1"/>
</g>
<rect x="1650" y="4" width="1" height="521" fill="#000"/><rect x="1650" y="529" width="1" height="110" fill="#000"/><rect x="1650" y="643" width="1" height="110" fill="#000"/><rect x="1650" y="757" width="1" height="60" fill="#000"/>
<rect x="1651" y="518" width="3" height="1" fill="#000"/><rect x="1651" y="504" width="8" height="1" fill="#000"/><rect x="1651" y="489" width="3" height="1" fill="#000"/><rect x="1651" y="475" width="8" height="1" fill="#000"/><rect x="1651" y="460" width="3" height="1" fill="#000"/><rect x="1651" y="446" width="8" height="1" fill="#000"/><rect x="1651" y="432" width="3" height="1" fill="#000"/><rect x="1651" y="417" width="8" height="1" fill="#000"/><rect x="1651" y="403" width="3" height="1" fill="#000"/><rect x="1651" y="388" width="8" height="1" fill="#000"/><rect x="1651" y="374" width="3" height="1" fill="#000"/><rect x="1651" y="359" width="8" height="1" fill="#000"/><rect x="1651" y="345" width="3" height="1" fill="#000"/><rect x="1651" y="330" width="8" height="1" fill="#000"/><rect x="1651" y="316" width="3" height="1" fill="#000"/><rect x="1651" y="301" width="8" height="1" fill="#000"/><rect x="1651" y="287" width="3" height="1" fill="#000"/><rect x="1651" y="272" width="8" height="1" fill="#000"/><rect x="1651" y="258" width="3" height="1" fill="#000"/><rect x="1651" y="243" width="8" height="1" fill="#000"/><rect x="1651" y="229" width="3" height="1" fill="#000"/><rect x="1651" y="214" width="8" height="1" fill="#000"/><rect x="1651" y="200" width="3" height="1" fill="#000"/><rect x="1651" y="186" width="8" height="1" fill="#000"/><rect x="1651" y="171" width="3" height="1" fill="#000"/><rect x="1651" y="157" width="8" height="1" fill="#000"/><rect x="1651" y="142" width="3" height="1" fill="#000"/><rect x="1651" y="128" width="8" height="1" fill="#000"/><rect x="1651" y="113" width="3" height="1" fill="#000"/><rect x="1651" y="99" width="8" height="1" fill="#000"/><rect x="1651" y="84" width="3" height="1" fill="#000"/><rect x="1651" y="70" width="8" height="1" fill="#000"/><rect x="1651" y="55" width="3" height="1" fill="#000"/><rect x="1651" y="41" width="8" height="1" fill="#000"/><rect x="1651" y="26" width="3" height="1" fill="#000"/><rect x="1651" y="12" width="8" height="1" fill="#000"/><rect x="1651" y="633" width="3" height="1" fill="#000"/><rect x="1651" y="625" width="8" height="1" fill="#000"/><rect x="1651" y="617" width="3" height="1" fill="#000"/><rect x="1651" y="609" width="8" height="1" fill="#000"/><rect x="1651" y="601" width="3" height="1" fill="#000"/><rect x="1651" y="593" width="8" height="1" fill="#000"/><rect x="1651" y="585" width="3" height="1" fill="#000"/><rect x="1651" y="577" width="8" height="1" fill="#000"/><rect x="1651" y="569" width="3" height="1" fill="#000"/><rect x="1651" y="561" width="8" height="1" fill="#000"/><rect x="1651" y="553" width="3" height="1" fill="#000"/><rect x="1651" y="545" width="8" height="1" fill="#000"/><rect x="1651" y="537" width="3" height="1" fill="#000"/><rect x="1651" y="747" width="8" height="1" fill="#000"/><rect x="1651" y="737" width="3" height="1" fill="#000"/><rect x="1651" y="728" width="3" height="1" fill="#000"/><rect x="1651" y="718" width="3" height="1" fill="#000"/><rect x="1651" y="708" width="3" height="1" fill="#000"/><rect x="1651" y="698" width="8" height="1" fill="#000"/><rect x="1651" y="689" width="3" height="1" fill="#000"/><rect x="1651" y="679" width="3" height="1" fill="#000"/><rect x="1651" y="669" width="3" height="1" fill="#000"/><rect x="1651" y="660" width="3" height="1" fill="#000"/><rect x="1651" y="650" width="8" height="1" fill="#000"/><rect x="1651" y="813" width="3" height="1" fill="#000"/><rect x="1651" y="804" width="8" height="1" fill="#000"/><rect x="1651" y="794" width="3" height="1" fill="#000"/><rect x="1651" y="785" width="8" height="1" fill="#000"/><rect x="1651" y="775" width="3" height="1" fill="#000"/><rect x="1651" y="766" width="8" height="1" fill="#000"/>
<text x="1697" y="511" text-anchor="end">10</text><text x="1697" y="482" text-anchor="end">20</text><text x="1697" y="453" text-anchor="end">30</text><text x="1697" y="424" text-anchor="end">40</text><text x="1697" y="395" text-anchor="end">50</text><text x="1697" y="366" text-anchor="end">60</text><text x="1697" y="337" text-anchor="end">70</text><text x="1697" y="308" text-anchor="end">80</text><text x="1697" y="279" text-anchor="end">90</text><text x="1697" y="250" text-anchor="end">100</text><text x="1697" y="193" text-anchor="end">120</text><text x="1697" y="164" text-anchor="end">130</text><text x="1697" y="135" text-anchor="end">140</text><text x="1697" y="106" text-anchor="end">150</text><text x="1697" y="77" text-anchor="end">160</text><text x="1697" y="48" text-anchor="end">170</text><text x="1697" y="19" text-anchor="end">180</text><text x="1697" y="632" text-anchor="end">40</text><text x="1697" y="616" text-anchor="end">50</text><text x="1697" y="600" text-anchor="end">60</text><text x="1697" y="584" text-anchor="end">70</text><text x="1697" y="568" text-anchor="end">80</text><text x="1697" y="552" text-anchor="end">90</text><text x="1697" text-anchor="end" y="706">50</text><text x="1697" y="811" text-anchor="end">0</text><text x="1697" y="792" text-anchor="end">10</text><text x="1697" y="773" text-anchor="end">20</text>
<rect x="1655" y="202" width="44" height="18" fill="#000"/>
<text x="1656.5" y="216" style="fill:#ff0000">110.30</text>
<rect x="0" y="817" width="1699" height="1" fill="#f0f0f0"/>
<rect x="0" y="819" width="1650" height="1" fill="#000"/>
<rect x="0" y="819" width="1" height="24" fill="#555"/>
<rect x="1652" y="821" width="47" height="24" fill="#efefef"/>
<rect x="0" y="843" width="1650" height="2" fill="#f4f4f4"/>
<g clip-path="url(#cx)">
<rect x="8" y="820" width="1" height="5" fill="#000"/><rect x="23" y="820" width="1" height="5" fill="#000"/><rect x="38" y="820" width="1" height="5" fill="#000"/><rect x="54" y="820" width="1" height="5" fill="#000"/><rect x="69" y="820" width="1" height="5" fill="#000"/><rect x="85" y="820" width="1" height="5" fill="#000"/><rect x="100" y="820" width="1" height="5" fill="#000"/><rect x="116" y="820" width="1" height="5" fill="#000"/><rect x="131" y="820" width="1" height="5" fill="#000"/><rect x="146" y="820" width="1" height="5" fill="#000"/><rect x="162" y="820" width="1" height="5" fill="#000"/><rect x="177" y="820" width="1" height="5" fill="#000"/><rect x="193" y="820" width="1" height="5" fill="#000"/><rect x="208" y="820" width="1" height="5" fill="#000"/><rect x="223" y="820" width="1" height="5" fill="#000"/><rect x="239" y="820" width="1" height="5" fill="#000"/><rect x="254" y="820" width="1" height="5" fill="#000"/><rect x="270" y="820" width="1" height="5" fill="#000"/><rect x="285" y="820" width="1" height="5" fill="#000"/><rect x="300" y="820" width="1" height="5" fill="#000"/><rect x="316" y="820" width="1" height="5" fill="#000"/><rect x="331" y="820" width="1" height="5" fill="#000"/><rect x="347" y="820" width="1" height="5" fill="#000"/><rect x="362" y="820" width="1" height="5" fill="#000"/><rect x="378" y="820" width="1" height="5" fill="#000"/><rect x="393" y="820" width="1" height="5" fill="#000"/><rect x="409" y="820" width="1" height="5" fill="#000"/><rect x="424" y="820" width="1" height="5" fill="#000"/><rect x="439" y="820" width="1" height="5" fill="#000"/><rect x="455" y="820" width="1" height="5" fill="#000"/><rect x="470" y="820" width="1" height="5" fill="#000"/><rect x="485" y="820" width="1" height="5" fill="#000"/><rect x="501" y="820" width="1" height="5" fill="#000"/><rect x="516" y="820" width="1" height="5" fill="#000"/><rect x="532" y="820" width="1" height="5" fill="#000"/><rect x="547" y="820" width="1" height="5" fill="#000"/><rect x="563" y="820" width="1" height="5" fill="#000"/><rect x="578" y="820" width="1" height="5" fill="#000"/><rect x="593" y="820" width="1" height="5" fill="#000"/><rect x="609" y="820" width="1" height="5" fill="#000"/><rect x="624" y="820" width="1" height="5" fill="#000"/><rect x="640" y="820" width="1" height="5" fill="#000"/><rect x="655" y="820" width="1" height="5" fill="#000"/><rect x="671" y="820" width="1" height="5" fill="#000"/><rect x="686" y="820" width="1" height="5" fill="#000"/><rect x="701" y="820" width="1" height="5" fill="#000"/><rect x="717" y="820" width="1" height="5" fill="#000"/><rect x="732" y="820" width="1" height="5" fill="#000"/><rect x="748" y="820" width="1" height="5" fill="#000"/><rect x="763" y="820" width="1" height="5" fill="#000"/><rect x="778" y="820" width="1" height="5" fill="#000"/><rect x="794" y="820" width="1" height="5" fill="#000"/><rect x="809" y="820" width="1" height="5" fill="#000"/><rect x="825" y="820" width="1" height="5" fill="#000"/><rect x="840" y="820" width="1" height="5" fill="#000"/><rect x="855" y="820" width="1" height="5" fill="#000"/><rect x="871" y="820" width="1" height="5" fill="#000"/><rect x="886" y="820" width="1" height="5" fill="#000"/><rect x="902" y="820" width="1" height="5" fill="#000"/><rect x="917" y="820" width="1" height="5" fill="#000"/><rect x="932" y="820" width="1" height="5" fill="#000"/><rect x="948" y="820" width="1" height="5" fill="#000"/><rect x="963" y="820" width="1" height="5" fill="#000"/><rect x="979" y="820" width="1" height="5" fill="#000"/><rect x="994" y="820" width="1" height="5" fill="#000"/><rect x="1010" y="820" width="1" height="5" fill="#000"/><rect x="1025" y="820" width="1" height="5" fill="#000"/><rect x="1040" y="820" width="1" height="5" fill="#000"/><rect x="1056" y="820" width="1" height="5" fill="#000"/><rect x="1071" y="820" width="1" height="5" fill="#000"/><rect x="1087" y="820" width="1" height="5" fill="#000"/><rect x="1102" y="820" width="1" height="5" fill="#000"/><rect x="1117" y="820" width="1" height="5" fill="#000"/><rect x="1133" y="820" width="1" height="5" fill="#000"/><rect x="1148" y="820" width="1" height="5" fill="#000"/><rect x="1164" y="820" width="1" height="5" fill="#000"/><rect x="1179" y="820" width="1" height="5" fill="#000"/><rect x="1195" y="820" width="1" height="5" fill="#000"/><rect x="1210" y="820" width="1" height="5" fill="#000"/><rect x="1225" y="820" width="1" height="5" fill="#000"/><rect x="1241" y="820" width="1" height="5" fill="#000"/><rect x="1256" y="820" width="1" height="5" fill="#000"/><rect x="1272" y="820" width="1" height="5" fill="#000"/><rect x="1287" y="820" width="1" height="5" fill="#000"/><rect x="1302" y="820" width="1" height="5" fill="#000"/><rect x="1318" y="820" width="1" height="5" fill="#000"/><rect x="1333" y="820" width="1" height="5" fill="#000"/><rect x="1349" y="820" width="1" height="5" fill="#000"/><rect x="1364" y="820" width="1" height="5" fill="#000"/><rect x="1379" y="820" width="1" height="5" fill="#000"/><rect x="1395" y="820" width="1" height="5" fill="#000"/><rect x="1410" y="820" width="1" height="5" fill="#000"/><rect x="1426" y="820" width="1" height="5" fill="#000"/><rect x="1441" y="820" width="1" height="5" fill="#000"/><rect x="1457" y="820" width="1" height="5" fill="#000"/><rect x="1472" y="820" width="1" height="5" fill="#000"/><rect x="1487" y="820" width="1" height="5" fill="#000"/><rect x="1503" y="820" width="1" height="5" fill="#000"/><rect x="1518" y="820" width="1" height="5" fill="#000"/><rect x="1534" y="820" width="1" height="5" fill="#000"/><rect x="1549" y="820" width="1" height="5" fill="#000"/><rect x="1564" y="820" width="1" height="5" fill="#000"/><rect x="1580" y="820" width="1" height="5" fill="#000"/><rect x="1595" y="820" width="1" height="5" fill="#000"/><rect x="1611" y="820" width="1" height="5" fill="#000"/><rect x="1626" y="820" width="1" height="5" fill="#000"/><rect x="8" y="820" width="1" height="23" fill="#000"/><text x="10" y="839">February</text><rect x="69" y="820" width="1" height="23" fill="#000"/><rect x="208" y="820" width="1" height="23" fill="#000"/><text x="210" y="839">May</text><rect x="270" y="820" width="1" height="23" fill="#000"/><text x="272" y="839">June</text><rect x="347" y="820" width="1" height="23" fill="#000"/><text x="349" y="839">July</text><rect x="470" y="820" width="1" height="23" fill="#000"/><text x="472" y="839">September</text><rect x="547" y="820" width="1" height="23" fill="#000"/><text x="549" y="839">October</text><rect x="609" y="820" width="1" height="23" fill="#000"/><text x="611" y="839">November</text><rect x="748" y="820" width="1" height="23" fill="#000"/><text x="750" y="839">2017</text><rect x="809" y="820" width="1" height="23" fill="#000"/><text x="811" y="839">February</text><rect x="871" y="820" width="1" height="23" fill="#000"/><text x="873" y="839">March</text><rect x="1010" y="820" width="1" height="23" fill="#000"/><text x="1012" y="839">May</text><rect x="1071" y="820" width="1" height="23" fill="#000"/><text x="1073" y="839">June</text><rect x="1148" y="820" width="1" height="23" fill="#000"/><text x="1150" y="839">July</text><rect x="1287" y="820" width="1" height="23" fill="#000"/><text x="1289" y="839">September</text><rect x="1410" y="820" width="1" height="23" fill="#000"/><text x="1412" y="839">November</text><rect x="1487" y="820" width="1" height="23" fill="#000"/><text x="1489" y="839">December</text><rect x="1626" y="820" width="1" height="23" fill="#000"/><text x="1628" y="839">Feb</text><rect x="131" y="842" width="1" height="1" fill="#000"/><rect x="131" y="825" width="40" height="17" fill="#fff"/><text x="133" y="839">April</text><rect x="409" y="842" width="1" height="1" fill="#000"/><rect x="409" y="825" width="40" height="17" fill="#fff"/><text x="411" y="839">August</text><rect x="671" y="842" width="1" height="1" fill="#000"/><rect x="948" y="842" width="1" height="1" fill="#000"/><rect x="948" y="825" width="40" height="17" fill="#fff"/><text x="950" y="839">April</text><rect x="1210" y="842" width="1" height="1" fill="#000"/><rect x="1210" y="825" width="40" height="17" fill="#fff"/><text x="1212" y="839">August</text><rect x="1349" y="842" width="1" height="1" fill="#000"/><rect x="1549" y="842" width="1" height="1" fill="#000"/><rect x="1549" y="825" width="40" height="17" fill="#fff"/><text x="1551" y="839">2018</text>
</g>
</svg></body></html>
